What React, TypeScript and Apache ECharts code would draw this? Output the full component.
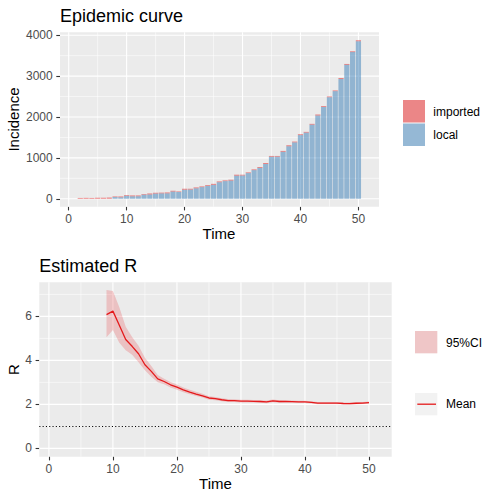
import React, { useEffect, useRef } from "react";
import * as echarts from "echarts";

// ---------- data ----------
const time = [
  1, 2, 3, 4, 5, 6, 7, 8, 9, 10, 11, 12, 13, 14, 15, 16, 17, 18, 19, 20, 21, 22, 23, 24, 25,
  26, 27, 28, 29, 30, 31, 32, 33, 34, 35, 36, 37, 38, 39, 40, 41, 42, 43, 44, 45, 46, 47, 48, 49, 50,
];
const localCases = [
  0, 0, 0, 0, 0, 0, 0, 42, 37, 72, 60, 62, 100, 105, 127, 132, 133, 176, 165, 220, 225, 256, 285, 315, 340,
  405, 432, 444, 564, 569, 628, 700, 755, 850, 1027, 1029, 1148, 1284, 1379, 1557, 1618, 1812, 2036, 2244, 2483,
  2632, 2928, 3275, 3587, 3852,
];
const importedCases = [
  0, 20, 22, 20, 25, 25, 30, 15, 20, 18, 22, 20, 15, 25, 20, 18, 22, 20, 15, 25, 20, 22, 18, 20, 25,
  20, 18, 22, 25, 20, 18, 20, 22, 25, 20, 18, 22, 25, 20, 22, 18, 20, 25, 22, 20, 18, 25, 22, 20, 25,
];

const rTime = [
  9, 10, 11, 12, 13, 14, 15, 16, 17, 18, 19, 20, 21, 22, 23, 24, 25, 26, 27, 28, 29,
  30, 31, 32, 33, 34, 35, 36, 37, 38, 39, 40, 41, 42, 43, 44, 45, 46, 47, 48, 49, 50,
];
const rMean = [
  6.08, 6.24, 5.6, 4.95, 4.64, 4.3, 3.8, 3.5, 3.16, 3.04, 2.89, 2.78, 2.66, 2.56, 2.47, 2.39, 2.29, 2.26, 2.21, 2.17, 2.17,
  2.15, 2.15, 2.14, 2.13, 2.11, 2.16, 2.13, 2.13, 2.12, 2.11, 2.11, 2.09, 2.06, 2.06, 2.06, 2.06, 2.04, 2.03, 2.05, 2.06, 2.08,
];
const rUpper = [
  7.2, 7.15, 6.42, 5.53, 5.06, 4.66, 4.12, 3.74, 3.33, 3.17, 3.02, 2.9, 2.77, 2.66, 2.57, 2.48, 2.37, 2.33, 2.28, 2.24, 2.23,
  2.21, 2.21, 2.2, 2.19, 2.17, 2.22, 2.19, 2.18, 2.17, 2.16, 2.16, 2.14, 2.11, 2.11, 2.11, 2.11, 2.09, 2.08, 2.1, 2.11, 2.13,
];
const rLower = [
  5.05, 5.38, 4.8, 4.46, 4.26, 3.92, 3.55, 3.26, 3.0, 2.91, 2.77, 2.66, 2.55, 2.46, 2.38, 2.31, 2.21, 2.19, 2.14, 2.11, 2.11,
  2.09, 2.09, 2.08, 2.07, 2.05, 2.1, 2.07, 2.08, 2.07, 2.06, 2.06, 2.04, 2.01, 2.01, 2.01, 2.01, 2.0, 1.99, 2.01, 2.02, 2.04,
];
const threshold = 1;

const timeTicks = [0, 10, 20, 30, 40, 50];
const timeMinor = [5, 15, 25, 35, 45];
const incTicks = [0, 1000, 2000, 3000, 4000];
const incMinor = [500, 1500, 2500, 3500];
const rTicks = [0, 2, 4, 6];
const rMinor = [1, 3, 5, 7];

// ---------- styles ----------
const FONT = "'Liberation Sans', Arial, sans-serif";
const PANEL = "#EBEBEB";
const BLUE = "rgba(55,126,184,0.5)";
const RED = "rgba(228,26,28,0.5)";
const CI = "rgba(228,26,28,0.2)";
const LINE_RED = "#E41A1C";

function gridLineSeries(idx: number, mx: number[], nx: number[], my: number[], ny: number[]) {
  const items = [
    ...nx.map((v) => ({ v, vert: true, major: false })),
    ...ny.map((v) => ({ v, vert: false, major: false })),
    ...mx.map((v) => ({ v, vert: true, major: true })),
    ...my.map((v) => ({ v, vert: false, major: true })),
  ];
  return {
    type: "custom",
    xAxisIndex: idx,
    yAxisIndex: idx,
    silent: true,
    z: 1,
    data: items.map((it) => [it.vert ? it.v : 0, it.vert ? 0 : it.v]),
    renderItem: (params: any, api: any) => {
      const it = items[params.dataIndex];
      const cs = params.coordSys;
      const lw = it.major ? 1.1 : 0.55;
      if (it.vert) {
        const x = api.coord([it.v, 0])[0];
        return { type: "line", shape: { x1: x, y1: cs.y, x2: x, y2: cs.y + cs.height }, style: { stroke: "#FFFFFF", lineWidth: lw } };
      }
      const y = api.coord([0, it.v])[1];
      return { type: "line", shape: { x1: cs.x, y1: y, x2: cs.x + cs.width, y2: y }, style: { stroke: "#FFFFFF", lineWidth: lw } };
    },
  };
}

function valueAxis(gridIndex: number, min: number, max: number, ticks: number[], isX: boolean) {
  return {
    type: "value",
    gridIndex,
    min,
    max,
    axisLine: { show: false, onZero: false },
    axisTick: { show: true, length: 3.7, customValues: ticks, lineStyle: { color: "#333333", width: 1.1 } },
    axisLabel: {
      show: true,
      customValues: ticks,
      color: "#4D4D4D",
      fontSize: 12,
      fontFamily: FONT,
      margin: isX ? 6 : 7.3,
      formatter: (v: number) => String(v),
    },
    splitLine: { show: false },
    minorSplitLine: { show: false },
  };
}

function txt(text: string, x: number, y: number, size: number, extra: any = {}) {
  return {
    type: "text",
    x,
    y,
    silent: true,
    ...extra,
    style: {
      text,
      fontSize: size,
      fontFamily: FONT,
      fill: extra.fill || "#000000",
      align: extra.align || "left",
      textAlign: extra.align || "left",
      verticalAlign: "middle",
      textVerticalAlign: "middle",
    },
  };
}

export default function App() {
  const ref = useRef<HTMLDivElement>(null);

  useEffect(() => {
    if (!ref.current) return;
    const chart = echarts.init(ref.current, null, { renderer: "svg" });

    const barData = time.map((t, i) => [t, localCases[i], importedCases[i]]);

    const option: any = {
      animation: false,
      backgroundColor: "#FFFFFF",
      grid: [
        { left: 60, top: 32.3, width: 319, height: 174.4, show: true, backgroundColor: PANEL, borderWidth: 0 },
        { left: 39.3, top: 282.3, width: 352.4, height: 174.4, show: true, backgroundColor: PANEL, borderWidth: 0 },
      ],
      xAxis: [valueAxis(0, -1.5, 53.55, timeTicks, true), valueAxis(1, -1.5, 53.55, timeTicks, true)],
      yAxis: [valueAxis(0, -194, 4071, incTicks, false), valueAxis(1, -0.38, 7.55, rTicks, false)],
      series: [
        gridLineSeries(0, timeTicks, timeMinor, incTicks, incMinor),
        gridLineSeries(1, timeTicks, timeMinor, rTicks, rMinor),
        {
          type: "custom",
          name: "incidence",
          xAxisIndex: 0,
          yAxisIndex: 0,
          z: 2,
          silent: true,
          encode: { x: 0, y: 1 },
          data: barData,
          renderItem: (params: any, api: any) => {
            const t = api.value(0);
            const loc = api.value(1);
            const imp = api.value(2);
            const w = api.size([0.9, 0])[0];
            const p0 = api.coord([t, 0]);
            const p1 = api.coord([t, loc]);
            const p2 = api.coord([t, loc + imp]);
            return {
              type: "group",
              children: [
                { type: "rect", shape: { x: p0[0] - w / 2, y: p1[1], width: w, height: p0[1] - p1[1] }, style: { fill: BLUE } },
                { type: "rect", shape: { x: p0[0] - w / 2, y: p2[1], width: w, height: p1[1] - p2[1] }, style: { fill: RED } },
              ],
            };
          },
        },
        {
          type: "custom",
          name: "95%CI",
          xAxisIndex: 1,
          yAxisIndex: 1,
          z: 2,
          silent: true,
          encode: { x: 0, y: 1 },
          data: rTime.map((t, i) => [t, rLower[i], rUpper[i]]),
          renderItem: (params: any, api: any) => {
            if (params.dataIndex !== 0) return null;
            const up = rTime.map((t, i) => api.coord([t, rUpper[i]]));
            const lo = rTime.map((t, i) => api.coord([t, rLower[i]])).reverse();
            return { type: "polygon", shape: { points: up.concat(lo) }, style: { fill: CI } };
          },
        },
        {
          type: "line",
          name: "Mean",
          xAxisIndex: 1,
          yAxisIndex: 1,
          z: 3,
          silent: true,
          showSymbol: false,
          symbol: "none",
          lineStyle: { color: LINE_RED, width: 1.3 },
          data: rTime.map((t, i) => [t, rMean[i]]),
          markLine: {
            silent: true,
            symbol: ["none", "none"],
            label: { show: false },
            lineStyle: { color: "#000000", width: 1.1, type: [1.1, 2.2] },
            data: [{ yAxis: threshold }],
          },
        },
      ],
      graphic: [
        txt("Epidemic curve", 60, 16, 18),
        txt("Estimated R", 39.3, 266, 18),
        txt("Time", 219, 233.5, 15, { align: "center" }),
        txt("Time", 215.5, 483.5, 15, { align: "center" }),
        txt("Incidence", 13.8, 119.5, 15, { align: "center", rotation: Math.PI / 2 }),
        txt("R", 13.8, 369.5, 15, { align: "center", rotation: Math.PI / 2 }),
        // legend: epidemic curve
        { type: "rect", silent: true, shape: { x: 403, y: 100, width: 22, height: 22.5 }, style: { fill: "#F2F2F2" } },
        { type: "rect", silent: true, shape: { x: 403, y: 100, width: 22, height: 22.5 }, style: { fill: RED } },
        { type: "rect", silent: true, shape: { x: 403, y: 123.5, width: 22, height: 22.5 }, style: { fill: "#F2F2F2" } },
        { type: "rect", silent: true, shape: { x: 403, y: 123.5, width: 22, height: 22.5 }, style: { fill: BLUE } },
        txt("imported", 433.3, 111.5, 12),
        txt("local", 433.3, 135, 12),
        // legend: R
        { type: "rect", silent: true, shape: { x: 415, y: 331, width: 22.3, height: 22.3 }, style: { fill: "#F2F2F2" } },
        { type: "rect", silent: true, shape: { x: 415, y: 331, width: 22.3, height: 22.3 }, style: { fill: CI } },
        { type: "rect", silent: true, shape: { x: 415, y: 393, width: 22.3, height: 22.3 }, style: { fill: "#F2F2F2" } },
        { type: "line", silent: true, shape: { x1: 417.3, y1: 404.2, x2: 436, y2: 404.2 }, style: { stroke: LINE_RED, lineWidth: 1.3 } },
        txt("95%CI", 446, 342.5, 12),
        txt("Mean", 446, 404.2, 12),
      ],
    };

    chart.setOption(option);
    return () => chart.dispose();
  }, []);

  return (
    <div
      ref={ref}
      style={{ position: "absolute", left: 0, top: 0, width: 500, height: 500 }}
    />
  );
}
